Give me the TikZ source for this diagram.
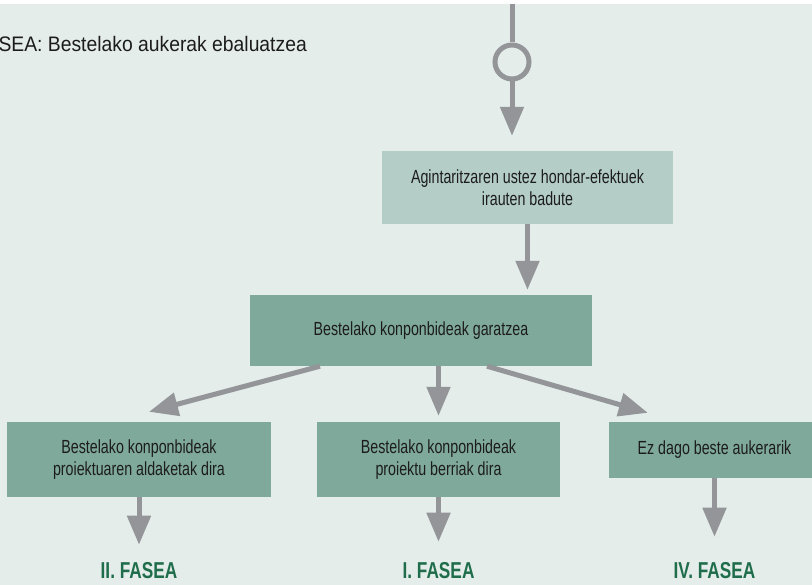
\documentclass[tikz,border=0pt]{standalone}
\usepackage{fontspec}
\setmainfont{Liberation Sans}[FakeStretch=0.75]
\newfontfamily\titlefont{Liberation Sans}[FakeStretch=0.92]
\usetikzlibrary{arrows.meta,positioning}
\definecolor{bgcol}{HTML}{E4EDEA}
\definecolor{lightbox}{HTML}{B4CDC6}
\definecolor{darkbox}{HTML}{7FA99B}
\definecolor{arrowgray}{HTML}{939598}
\definecolor{fasegreen}{HTML}{1F6D4B}
\definecolor{boxtext}{HTML}{1C1C1C}
\newcommand{\boxfont}{\fontsize{19}{22}\selectfont}
\newcommand{\fasefont}{\fontsize{23}{26}\selectfont\bfseries}

\begin{document}
\begin{tikzpicture}[x=1pt,y=-1pt,
    pbox/.style={rectangle,fill=darkbox,text=boxtext,align=center,
                 inner sep=0pt,font=\boxfont},
    fase/.style={text=fasegreen,font=\fasefont,inner sep=0pt,anchor=base},
    flow/.style={draw=arrowgray,line width=5pt,
                 -{Triangle[width=23pt,length=29pt]}}]
      \useasboundingbox (0,0) rectangle (812,585);
      \fill[bgcol] (0,4) rectangle (812,585);

      \node (title) [anchor=base east,inner sep=0pt,
                     font=\titlefont\fontsize{21}{25}\selectfont,text=boxtext]
                     at (307,51.5)     {FASEA: Bestelako aukerak ebaluatzea};
      \coordinate (top) at (512,4);
      \node (junc)  [circle,draw=arrowgray,line width=5pt,minimum size=34pt,
                     inner sep=0pt] at (512,62) {};
      \node (agint) [pbox,fill=lightbox,minimum width=291pt,minimum height=73pt]
                     at (527.5,187.5)  {Agintaritzaren ustez hondar-efektuek\\irauten badute};
      \node (garatu)[pbox,minimum width=342pt,minimum height=71pt]
                     at (421,330.5)    {Bestelako konponbideak garatzea};
      \node (aldak) [pbox,minimum width=264pt,minimum height=75pt]
                     at (139,459.5)    {Bestelako konponbideak\\proiektuaren aldaketak dira};
      \node (berri) [pbox,minimum width=243pt,minimum height=75pt]
                     at (438.5,459.5)  {Bestelako konponbideak\\proiektu berriak dira};
      \node (ezdago)[pbox,minimum width=211pt,minimum height=56pt]
                     at (714.5,450)    {Ez dago beste aukerarik};
      \node (fase2) [fase] at (139,578)   {II. FASEA};
      \node (fase1) [fase] at (438.5,578) {I. FASEA};
      \node (fase4) [fase] at (714.5,578) {IV. FASEA};

      \path[draw=arrowgray,line width=5pt] (top) edge (junc);
      \path (junc)   edge [flow,shorten >=15pt]  (junc |- agint.north);
      \path (agint.south)
                     edge [flow,shorten >=5pt]   (agint.south |- garatu.north);
      \path ([xshift=-101pt]garatu.south)
                     edge [flow] ([xshift=10pt,yshift=10pt]aldak.north);
      \path (garatu.south -| berri.north)
                     edge [flow,shorten >=6pt]   (berri.north);
      \path ([xshift=66pt]garatu.south)
                     edge [flow] ([xshift=39pt,yshift=9pt]ezdago.north west);
      \path (aldak)  edge [flow,shorten >=17pt]  (fase2);
      \path (berri)  edge [flow,shorten >=20pt]  (fase1);
      \path (ezdago) edge [flow,shorten >=25pt]  (fase4);
    \end{tikzpicture}
\end{document}
